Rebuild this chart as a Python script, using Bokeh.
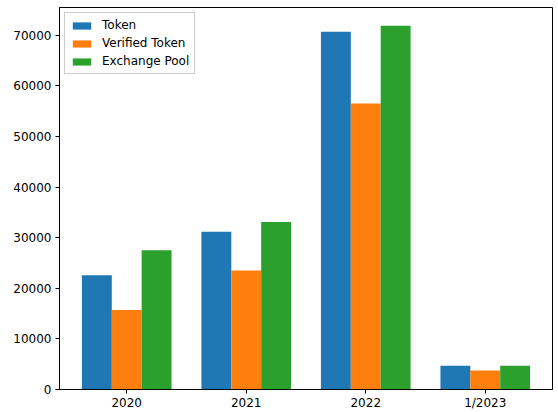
from bokeh.plotting import figure
from bokeh.models import ColumnDataSource, FixedTicker, Range1d, Legend, LegendItem
from bokeh.transform import dodge
from bokeh.embed import file_html
from bokeh.resources import INLINE

categories = ["2020", "2021", "2022", "1/2023"]
token = [22600, 31200, 70700, 4700]
verified_token = [15700, 23500, 56500, 3750]
exchange_pool = [27500, 33100, 71900, 4700]

series_names = ["Token", "Verified Token", "Exchange Pool"]
colors = ["#1f77b4", "#ff7f0e", "#2ca02c"]

idx = list(range(len(categories)))
src = ColumnDataSource(dict(x=idx, token=token, verified=verified_token, exchange=exchange_pool))

p = figure(width=558, height=412, output_backend="svg", toolbar_location=None,
           x_range=Range1d(-0.5625, 3.5625), y_range=Range1d(0, 75495),
           min_border_left=59, min_border_right=6, min_border_top=7, min_border_bottom=0,
           border_fill_color="white")

w = 0.25
cols = ["token", "verified", "exchange"]
offs = [-0.25, 0.0, 0.25]
renderers = []
for c, o, col in zip(cols, offs, colors):
    r = p.vbar(x=dodge("x", o, range=p.x_range), top=c, width=w, bottom=0, source=src,
               fill_color=col, line_color=None)
    renderers.append(r)

legend = Legend(items=[LegendItem(label=n, renderers=[r]) for n, r in zip(series_names, renderers)],
                location="top_left")
legend.label_text_font_size = "12px"
legend.label_text_font = "DejaVu Sans"
legend.label_text_color = "black"
legend.glyph_width = 23
legend.glyph_height = 9
legend.label_height = 14
legend.label_standoff = 9
legend.spacing = 4
legend.padding = 5
legend.margin = 5
legend.border_line_color = "#cccccc"
legend.border_line_alpha = 1.0
legend.background_fill_alpha = 0.8
p.add_layout(legend)

p.xgrid.visible = False
p.ygrid.visible = False
p.outline_line_color = "black"
p.outline_line_width = 1

p.xaxis.ticker = FixedTicker(ticks=idx)
p.xaxis.major_label_overrides = {i: c for i, c in zip(idx, categories)}
p.yaxis.ticker = FixedTicker(ticks=[0, 10000, 20000, 30000, 40000, 50000, 60000, 70000])

for ax in (p.xaxis, p.yaxis):
    ax.major_label_text_font_size = "12px"
    ax.major_label_text_font = "DejaVu Sans"
    ax.major_label_text_color = "black"
    ax.axis_line_color = "black"
    ax.major_tick_line_color = "black"
    ax.major_tick_out = 4
    ax.major_tick_in = 0
    ax.minor_tick_out = 0
    ax.minor_tick_in = 0
p.yaxis.major_label_standoff = 4
p.xaxis.major_label_standoff = 2

open("out.html", "w").write(file_html(p, INLINE))
